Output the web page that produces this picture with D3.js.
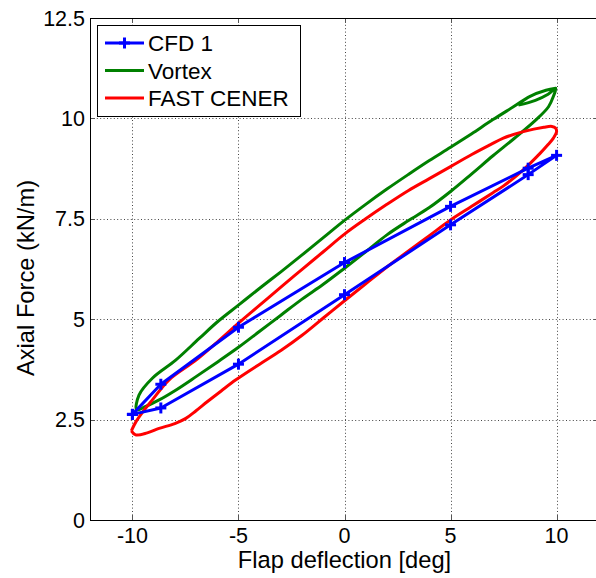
<!DOCTYPE html>
<html>
<head>
<meta charset="utf-8">
<script src="https://cdn.jsdelivr.net/npm/d3@7"></script>
<style>
  html, body { margin: 0; padding: 0; background: #fff; }
  svg { display: block; font-family: "Liberation Sans", Arial, Helvetica, sans-serif; }
</style>
</head>
<body>
<svg id="chart" width="596" height="578"></svg>
<script>
// ---- data ----
const xTicks = [-10, -5, 0, 5, 10];
const xTickLabels = ["-10", "-5", "0", "5", "10"];
const yTicks = [0, 2.5, 5, 7.5, 10, 12.5];
const yTickLabels = ["0", "2.5", "5", "7.5", "10", "12.5"];
const seriesNames = ["CFD 1", "Vortex", "FAST CENER"];
const seriesColors = ["#0000ff", "#008000", "#ff0000"];
const xLabel = "Flap deflection [deg]";
const yLabel = "Axial Force (kN/m)";

const cfdX = [-10, -8.66, -5, 0, 5, 8.66, 10, 8.66, 5, 0, -5, -8.66, -10];
const cfdY = [2.63, 3.38, 4.80, 6.41, 7.81, 8.76, 9.08, 8.60, 7.35, 5.61, 3.88, 2.79, 2.63];

const vortexX = [8.2, 9.0, 9.6, 9.96, 9.85, 9.62, 9.0, 8.0, 7.0, 6.0, 5.0, 4.0, 3.0, 2.0, 1.0, 0, -1, -2, -3, -4, -5, -6, -7, -8, -8.74, -9.4, -9.8,
                 -9.69, -9.06, -7.96, -6.85, -6.0, -5.0, -4.0, -3.0, -2.0, -1.0, 0, 1.0, 2.0, 3.0, 4.0, 5.0, 6.0, 7.0, 8.0, 8.75, 9.5, 9.96];
const vortexY = [10.33, 10.45, 10.6, 10.75, 10.55, 10.29, 9.95, 9.5, 9.07, 8.62, 8.18, 7.78, 7.45, 7.1, 6.68, 6.27, 5.87, 5.5, 5.1, 4.7, 4.30, 3.93, 3.57, 3.22, 2.99, 2.82, 2.74,
                 3.11, 3.53, 3.98, 4.52, 4.93, 5.35, 5.77, 6.18, 6.6, 7.03, 7.46, 7.86, 8.24, 8.6, 8.95, 9.28, 9.62, 9.97, 10.3, 10.55, 10.7, 10.75];

const fastX = [-10.05, -9.85, -9.3, -8.74, -8.0, -7.48, -7.0, -6.46, -5.8, -5.12, -4.0, -3.0, -2.0, -1.0, 0, 1.0, 2.0, 3.0, 4.0, 5.0, 6.0, 7.0, 7.5, 8.43, 9.22, 9.6, 9.85, 10.0, 9.95, 9.78,
               9.4, 8.43, 7.49, 6.86, 6.0, 5.0, 4.0, 3.0, 2.0, 1.0, 0, -1.0, -2.0, -3.0, -4.0, -5.0, -6.0, -7.0, -8.27, -9.06, -9.5, -9.83, -10.05];
const fastY = [2.22, 2.12, 2.17, 2.28, 2.40, 2.53, 2.72, 2.95, 3.22, 3.49, 3.88, 4.22, 4.60, 5.03, 5.46, 5.88, 6.30, 6.69, 7.08, 7.47, 7.81, 8.15, 8.32, 8.72, 9.13, 9.35, 9.51, 9.67, 9.76, 9.80,
               9.78, 9.67, 9.51, 9.34, 9.10, 8.80, 8.50, 8.20, 7.86, 7.50, 7.12, 6.68, 6.24, 5.80, 5.35, 4.90, 4.43, 3.98, 3.49, 2.99, 2.70, 2.45, 2.22];

// ---- layout ----
const svg = d3.select("#chart");
const mLeft = 90, mRight = 599, mTop = 18, mBottom = 520;
const x = d3.scaleLinear().domain([-12, 12]).range([mLeft, mRight]);
const y = d3.scaleLinear().domain([0, 12.5]).range([mBottom, mTop]);

// axes background
svg.append("rect").attr("x", mLeft).attr("y", mTop).attr("width", mRight - mLeft).attr("height", mBottom - mTop).attr("fill", "#fff");

// grid
const grid = svg.append("g").attr("stroke", "#444").attr("stroke-width", 1).attr("stroke-dasharray", "1,2.4");
grid.selectAll(".gx").data(xTicks).join("line")
  .attr("x1", d => Math.round(x(d)) + 0.5).attr("x2", d => Math.round(x(d)) + 0.5)
  .attr("y1", mTop).attr("y2", mBottom);
grid.selectAll(".gy").data(yTicks.filter(d => d > 0 && d < 12.5)).join("line")
  .attr("y1", d => Math.round(y(d)) + 0.5).attr("y2", d => Math.round(y(d)) + 0.5)
  .attr("x1", mLeft).attr("x2", mRight);

// inward tick marks
const tk = svg.append("g").attr("stroke", "#555").attr("stroke-width", 1);
xTicks.forEach(d => {
  const px = Math.round(x(d)) + 0.5;
  tk.append("line").attr("x1", px).attr("x2", px).attr("y1", mBottom).attr("y2", mBottom - 5);
  tk.append("line").attr("x1", px).attr("x2", px).attr("y1", mTop).attr("y2", mTop + 5);
});
yTicks.forEach(d => {
  const py = Math.round(y(d)) + 0.5;
  tk.append("line").attr("y1", py).attr("y2", py).attr("x1", mLeft).attr("x2", mLeft + 5);
  tk.append("line").attr("y1", py).attr("y2", py).attr("x1", mRight).attr("x2", mRight - 5);
});

// frame
svg.append("rect").attr("x", mLeft + 0.5).attr("y", mTop + 0.5).attr("width", mRight - mLeft - 1).attr("height", mBottom - mTop)
  .attr("fill", "none").attr("stroke", "#000").attr("stroke-width", 1);

// tick labels
svg.append("g").selectAll("text").data(xTicks).join("text")
  .attr("x", d => x(d)).attr("y", 543).attr("text-anchor", "middle")
  .attr("font-size", 21.5).attr("fill", "#000").text((d, i) => xTickLabels[i]);
svg.append("g").selectAll("text").data(yTicks).join("text")
  .attr("x", 85).attr("y", d => y(d) + 7.5).attr("text-anchor", "end")
  .attr("font-size", 21.5).attr("fill", "#000").text((d, i) => yTickLabels[i]);

// axis labels
svg.append("text").attr("x", x(0)).attr("y", 568).attr("text-anchor", "middle")
  .attr("font-size", 23.7).attr("fill", "#000").text(xLabel);
svg.append("text").attr("transform", "translate(33.5,278) rotate(-90)").attr("text-anchor", "middle")
  .attr("font-size", 23.7).attr("fill", "#000").text(yLabel);

// series
const lineGen = d3.line().x(d => x(d[0])).y(d => y(d[1]));
const smoothGen = d3.line().x(d => x(d[0])).y(d => y(d[1])).curve(d3.curveCatmullRom.alpha(0.5));

const vortexPts = vortexX.map((v, i) => [v, vortexY[i]]);
const fastPts = fastX.map((v, i) => [v, fastY[i]]);
const cfdPts = cfdX.map((v, i) => [v, cfdY[i]]);

svg.append("path").attr("d", smoothGen(vortexPts)).attr("fill", "none")
  .attr("stroke", seriesColors[1]).attr("stroke-width", 3).attr("stroke-linejoin", "round");
svg.append("path").attr("d", smoothGen(fastPts)).attr("fill", "none")
  .attr("stroke", seriesColors[2]).attr("stroke-width", 3).attr("stroke-linejoin", "round");
svg.append("path").attr("d", lineGen(cfdPts)).attr("fill", "none")
  .attr("stroke", seriesColors[0]).attr("stroke-width", 3).attr("stroke-linejoin", "round");

function plus(g, cx, cy, color) {
  const s = 5.5;
  g.append("line").attr("x1", cx - s).attr("x2", cx + s).attr("y1", cy).attr("y2", cy)
    .attr("stroke", color).attr("stroke-width", 3);
  g.append("line").attr("x1", cx).attr("x2", cx).attr("y1", cy - s).attr("y2", cy + s)
    .attr("stroke", color).attr("stroke-width", 3);
}
const mk = svg.append("g");
cfdPts.forEach(p => plus(mk, x(p[0]), y(p[1]), seriesColors[0]));

// legend
const lg = svg.append("g");
lg.append("rect").attr("x", 97.5).attr("y", 25.5).attr("width", 203).attr("height", 91)
  .attr("fill", "#fff").attr("stroke", "#000").attr("stroke-width", 1);
const rowsY = [43, 70.5, 98];
seriesNames.forEach((name, i) => {
  lg.append("line").attr("x1", 105).attr("x2", 144).attr("y1", rowsY[i]).attr("y2", rowsY[i])
    .attr("stroke", seriesColors[i]).attr("stroke-width", 3);
  if (i === 0) plus(lg, 124.5, rowsY[i], seriesColors[i]);
  lg.append("text").attr("x", 148).attr("y", rowsY[i] + 8).attr("font-size", 22.5)
    .attr("fill", "#000").text(name);
});
</script>
</body>
</html>
